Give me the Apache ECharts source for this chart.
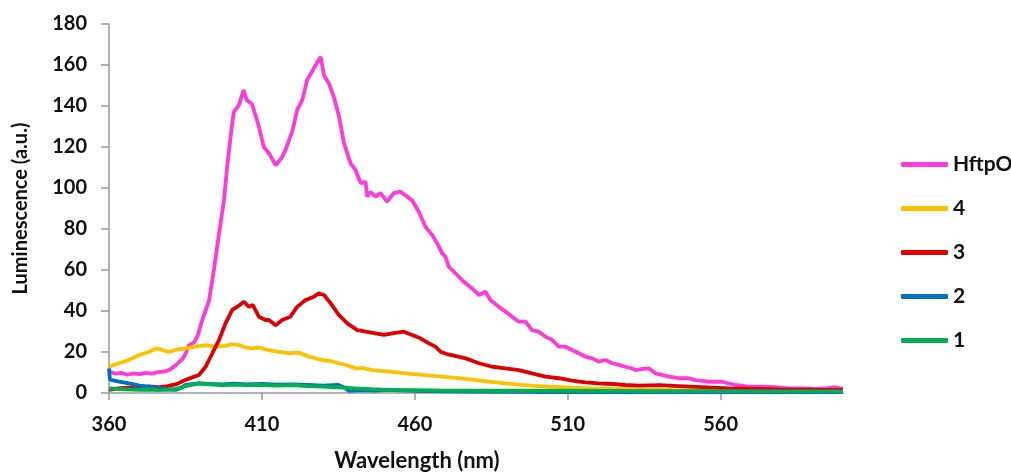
<!DOCTYPE html>
<html>
<head>
<meta charset="utf-8">
<script src="https://cdn.jsdelivr.net/npm/echarts@6/dist/echarts.min.js"></script>
<style>
  html, body { margin: 0; padding: 0; background: #fff; }
  #chart { width: 1011px; height: 472px; }
</style>
</head>
<body>
<div id="chart"></div>
<script>
// values, [wavelength nm, luminescence a.u.]
const seriesNames = ['HftpO', '4', '3', '2', '1']
const xTickValues = [360, 410, 460, 510, 560]

const hftpo = [[360,10.5],[362,9.5],[364,9.8],[366,8.9],[368,9.6],[370,9.2],[372,9.8],[374,9.4],[376,10.2],[378,10.4],[380,11.5],[382,13.8],[384,16.5],[385,19],[386,23],[388,25],[389,28],[390.5,35.6],[392.7,45],[394.3,60],[396,78],[397.6,94],[398.6,110],[400,128],[400.8,137],[402.5,140.5],[404,147.8],[405,143],[406.7,141],[408,135],[409,130],[410.6,120],[412.3,117],[414.5,111],[416.6,115],[417.7,118.5],[420,128],[421.5,138],[423.2,143],[424.8,152.7],[427,158.4],[429.2,164],[430.3,155],[431.9,151],[433.5,144.5],[435.2,135],[436.8,122],[439,112],[440.6,108.8],[442.3,102.4],[443.9,103],[444.4,95.8],[445.5,98],[447.2,95.8],[448.8,97.5],[450.9,93.3],[453.1,97.5],[455.3,98.2],[457.5,95.8],[459.1,94],[461.3,88.4],[463.5,81],[465.7,77],[467.3,73],[469,68],[470,66.5],[471.1,61.6],[472.2,60],[474.4,56.7],[476.6,53.5],[478.7,51],[481,47.8],[483.1,49.4],[484.7,45.4],[487.5,42],[489.6,39.7],[491.8,37.2],[494,34.8],[496.2,34.8],[498.3,30.7],[500.5,29.9],[502.7,27.5],[504.9,25.9],[507.1,22.6],[509.2,22.6],[511.4,21],[513.6,19.4],[515.8,17.7],[518,16.9],[520.1,15.3],[522.3,16.1],[524.5,14.5],[526.7,13.7],[528.8,12.8],[531,12],[532.1,11.2],[534,11.6],[536.5,12],[538.7,9.6],[543,8],[546.3,7.2],[549.5,7.2],[551.7,6.3],[556,5.5],[560.4,5.5],[564.8,3.9],[569.1,3.1],[573.5,3.1],[577.9,2.8],[582.2,2.3],[586.6,2.3],[591,2],[595,2.4],[597.5,2.8],[600,2]]

const s4 = [[360,12.8],[363.3,14.5],[366.5,16.1],[369.8,18.5],[373,20],[375.3,21.8],[377.4,21],[379.6,20],[381.8,21],[385,21.8],[388.3,22.6],[391.6,23.4],[394.9,22.6],[398.1,23],[400,23.8],[402.5,23.4],[404.5,22.3],[406.8,21.8],[409,22.2],[411.2,21.3],[413.5,20.6],[415.6,20.1],[418.8,19.4],[422,19.7],[425.4,17.7],[429.7,16.1],[432.5,15.6],[435.2,14.5],[438,13.4],[440.6,12],[443,12.2],[446,11.2],[451.5,10.4],[457,9.6],[462.4,8.8],[467.8,8.1],[473.3,7.4],[478.7,6.5],[484.2,5.5],[489.6,4.7],[495,4],[500.5,3.4],[506,3],[511.4,2.6],[517,2.3],[522.3,2.1],[533,1.8],[545,1.5],[560,1.2],[575,1],[590,0.9],[600,0.8]]

const s3 = [[360,1.5],[363,2.2],[366,2.6],[370,2.3],[373,3.2],[376,2.8],[379,3.4],[381.8,4.2],[385,6.3],[387,7.5],[389.4,8.8],[391.6,12.8],[393.8,19.4],[396,25.9],[398.1,34],[400.3,40.5],[401.9,42],[404.1,44.5],[405.8,42],[407,43],[409,37.2],[411.2,35.6],[412.3,35.6],[414.5,33],[416.6,35.6],[419.3,37.2],[421.5,42],[424.3,45.4],[427,47],[428.6,48.6],[430.3,47.8],[432.5,43.7],[435.2,38],[437.9,34],[441.2,30.7],[443.9,29.9],[447.2,29.1],[449.9,28.3],[452.6,29.1],[456.4,29.9],[459.1,28.3],[461.8,26.7],[464.6,24.2],[466.7,22.6],[468.5,20],[470.5,19],[472.1,18.5],[476.6,16.9],[481,14.5],[485.3,12.8],[489.6,12],[494,11.2],[498.3,9.6],[502.7,8],[507.1,7.2],[511.4,6],[515.8,5.2],[520.1,4.7],[524.5,4.4],[528.8,3.9],[533.2,3.6],[540,3.8],[546.3,3.4],[554,2.9],[562.6,2.3],[570,2.1],[579,1.8],[590,1.6],[600,1.5]]

const s2 = [[360,12],[360.3,6.5],[361,6.3],[363.3,5.5],[366.5,4.7],[370,3.6],[373,3.1],[376,2.4],[379,1.9],[381.8,1.5],[383.5,2.5],[385,3.9],[387,4.3],[389.4,4.7],[393,4.4],[397,4.2],[401,4.6],[405,4.2],[410,4.4],[415,4.1],[420,4.2],[425,3.9],[430,3.6],[435,3.9],[437,2.6],[438.4,1.1],[442,1.4],[447,1.2],[451.5,1.5],[460,1],[470,0.8],[480,0.7],[500,0.5],[530,0.4],[560,0.4],[600,0.4]]

const s1 = [[360,2.3],[363,2],[366,1.8],[370,1.5],[373,1.7],[376,1.4],[378.5,1.5],[381,1.7],[383,2.4],[385,3.4],[387,4],[389.4,4.7],[393,4.2],[397,3.9],[401,4.1],[405,3.8],[410,3.9],[415,3.6],[420,3.9],[425,3.4],[429.7,3.1],[435,2.8],[440.6,2.3],[446,1.9],[451.5,1.5],[460,1.4],[470,1.2],[480,1.1],[500,1.1],[520,1],[540,0.9],[560,0.9],[580,0.8],[600,0.8]]

const colors = ['#ff3ad8', '#ffc000', '#e00000', '#0070c0', '#00b050']
const seriesData = [hftpo, s4, s3, s2, s1]

const font = 'Lato, "Liberation Sans", sans-serif'

function makeSeries() {
    return seriesNames.map((name, i) => ({
        name: name,
        type: 'line',
        data: seriesData[i],
        symbol: 'none',
        lineStyle: { width: 3.8, color: colors[i] },
        itemStyle: { color: colors[i] }
    }))
}

const chart = echarts.init(document.getElementById('chart'))
chart.setOption({
    animation: false,
    backgroundColor: '#fff',
    grid: { left: 109, right: 168, top: 24, bottom: 79, outerBoundsMode: 'none', containLabel: false },
    legend: {
        orient: 'vertical',
        left: 896,
        top: 149,
        icon: 'roundRect',
        itemWidth: 47,
        itemHeight: 5,
        itemGap: 23,
        data: seriesNames,
        textStyle: { fontFamily: font, fontWeight: 'bold', fontSize: 21, color: '#111', lineHeight: 21 }
    },
    xAxis: {
        type: 'value',
        min: 360,
        max: 600,
        name: 'Wavelength (nm)',
        nameLocation: 'middle',
        nameGap: 57,
        nameTextStyle: { fontFamily: font, fontSize: 22, fontWeight: 'bold', color: '#111', padding: [0, 118, 0, 0] },
        axisLine: { show: true, lineStyle: { color: '#999', width: 1.5 } },
        axisTick: { show: true, length: 7, customValues: xTickValues, lineStyle: { color: '#999', width: 1.5 } },
        axisLabel: { customValues: xTickValues, margin: 22, fontFamily: font, fontWeight: 'bold', fontSize: 20, color: '#111' },
        splitLine: { show: false }
    },
    yAxis: {
        type: 'value',
        min: 0,
        max: 180,
        interval: 20,
        name: 'Luminescence (a.u.)',
        nameLocation: 'middle',
        nameGap: 78,
        nameTextStyle: { fontFamily: font, fontSize: 20, fontWeight: 'bold', color: '#111' },
        axisLine: { show: true, lineStyle: { color: '#999', width: 1.5 } },
        axisTick: { show: true, length: 8, lineStyle: { color: '#999', width: 1.5 } },
        axisLabel: { margin: 22, fontFamily: font, fontWeight: 'bold', fontSize: 20, color: '#111' },
        splitLine: { show: false }
    },
    series: makeSeries()
})
</script>
</body>
</html>
